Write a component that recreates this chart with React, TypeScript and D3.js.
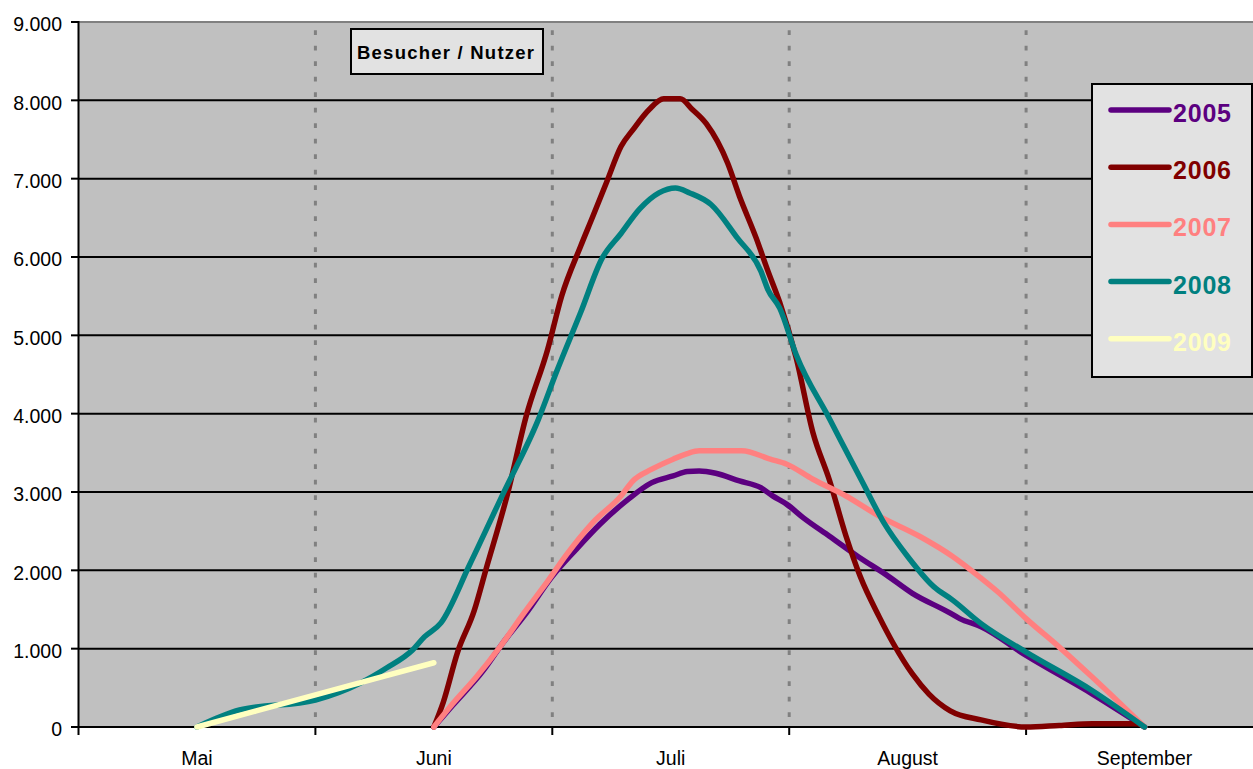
import React from "react";
import * as d3 from "d3";

const categories = ["Mai", "Juni", "Juli", "August", "September"];
const yTicks = [0, 1000, 2000, 3000, 4000, 5000, 6000, 7000, 8000, 9000];
const chartTitle = "Besucher / Nutzer";

// [position in months (0 = Mai, 1 = Juni, ...), visitors]
const s2005: [number, number][] = [
  [1.0, 0], [1.08, 278], [1.21, 726], [1.29, 1068], [1.39, 1453], [1.5, 1923], [1.6, 2265],
  [1.7, 2585], [1.82, 2906], [1.92, 3120], [2.01, 3205], [2.07, 3261], [2.12, 3269],
  [2.19, 3239], [2.29, 3141], [2.38, 3056], [2.43, 2950], [2.49, 2842], [2.56, 2670],
  [2.67, 2435], [2.79, 2177], [2.91, 1942], [3.02, 1706], [3.17, 1470], [3.22, 1384],
  [3.31, 1280], [3.5, 913], [3.78, 420], [4.0, 0],
];
const s2006: [number, number][] = [
  [1.0, 0], [1.04, 318], [1.1, 953], [1.17, 1482], [1.22, 2012], [1.31, 2964], [1.39, 3970],
  [1.48, 4817], [1.54, 5506], [1.62, 6141], [1.67, 6511], [1.73, 6961], [1.79, 7411],
  [1.84, 7623], [1.91, 7887], [1.97, 8020], [2.04, 8020], [2.09, 7887], [2.15, 7702],
  [2.24, 7200], [2.29, 6776], [2.36, 6247], [2.41, 5823], [2.46, 5420], [2.53, 4706],
  [2.6, 3760], [2.67, 3150], [2.74, 2435], [2.8, 1920], [2.88, 1406], [2.94, 1063],
  [3.02, 677], [3.09, 420], [3.18, 206], [3.31, 90], [3.5, 0], [3.64, 20], [3.78, 43],
  [3.97, 43], [4.0, 0],
];
const s2007: [number, number][] = [
  [1.0, 0], [1.08, 299], [1.18, 641], [1.28, 1026], [1.38, 1453], [1.48, 1859], [1.56, 2201],
  [1.67, 2607], [1.79, 2949], [1.84, 3141], [1.92, 3291], [2.01, 3419], [2.07, 3491],
  [2.12, 3526], [2.3, 3526], [2.42, 3419], [2.49, 3355], [2.6, 3163], [2.74, 2949],
  [2.88, 2692], [3.05, 2435], [3.19, 2177], [3.31, 1900], [3.38, 1727], [3.5, 1384],
  [3.64, 1020], [3.78, 634], [4.0, 0],
];
const s2008: [number, number][] = [
  [0.0, 0], [0.18, 217], [0.5, 345], [0.69, 562], [0.8, 753], [0.91, 983], [0.96, 1150],
  [1.03, 1330], [1.15, 2065], [1.29, 2964], [1.44, 3917], [1.52, 4550], [1.62, 5294],
  [1.71, 5982], [1.79, 6300], [1.87, 6617], [1.95, 6818], [2.02, 6880], [2.08, 6818],
  [2.17, 6670], [2.28, 6247], [2.38, 5823], [2.41, 5585], [2.46, 5347], [2.53, 4749],
  [2.67, 3935], [2.81, 3120], [2.9, 2606], [3.0, 2177], [3.11, 1792], [3.19, 1620],
  [3.31, 1320], [3.5, 956], [3.78, 463], [4.0, 0],
];
const s2009: [number, number][] = [
  [0.0, 0], [0.5, 410], [1.0, 820],
];

const seriesNames = ["2005", "2006", "2007", "2008", "2009"];
const seriesData = [s2005, s2006, s2007, s2008, s2009];
const seriesColors = ["#5C0080", "#800000", "#FF8080", "#008080", "#FFFFC0"];

const W = 1253;
const H = 769;
const left = 78.5;
const catW = 236.9;
const top = 22;
const bottom = 727;

export default function App() {
  const x = d3.scaleLinear().domain([-0.5, categories.length - 0.5]).range([left, left + catW * categories.length]);
  const y = d3.scaleLinear().domain([0, 9000]).range([bottom, top]);
  const line = d3
    .line<[number, number]>()
    .x((d) => x(d[0]))
    .y((d) => y(d[1]))
    .curve(d3.curveMonotoneX);
  const fmt = (v: number) => (v === 0 ? "0" : `${v / 1000}.000`);
  const boundaries = d3.range(1, categories.length).map((i) => i - 0.5);
  const font = "'Liberation Sans', Arial, sans-serif";

  return (
    <div style={{ position: "absolute", left: 0, top: 0 }}>
      <svg width={W} height={H} style={{ display: "block" }}>
        <rect x={0} y={0} width={W} height={H} fill="#ffffff" />
        <rect x={left} y={top} width={catW * categories.length} height={bottom - top} fill="#C0C0C0" />
        <line x1={left} x2={W + 20} y1={top} y2={top} stroke="#808080" strokeWidth={2} />
        {yTicks.slice(1, -1).map((t) => (
          <line key={t} x1={left} x2={W + 20} y1={y(t)} y2={y(t)} stroke="#000" strokeWidth={2} />
        ))}
        {boundaries.map((b) => (
          <line
            key={b}
            x1={x(b)}
            x2={x(b)}
            y1={717}
            y2={top + 1}
            stroke="#808080"
            strokeWidth={3}
            strokeDasharray="4.7 10.8"
          />
        ))}
        {/* axes */}
        <line x1={left} x2={left} y1={top - 1} y2={bottom + 8} stroke="#000" strokeWidth={2} />
        <line x1={left} x2={W + 20} y1={bottom} y2={bottom} stroke="#000" strokeWidth={2} />
        {boundaries.map((b) => (
          <line key={"t" + b} x1={x(b)} x2={x(b)} y1={bottom} y2={bottom + 8} stroke="#000" strokeWidth={2} />
        ))}
        {yTicks.map((t) => (
          <g key={"y" + t}>
            <line x1={71} x2={left} y1={y(t)} y2={y(t)} stroke="#000" strokeWidth={2} />
            <text x={62} y={y(t) + 9.3} textAnchor="end" fontFamily={font} fontSize={19.5} fill="#000">
              {fmt(t)}
            </text>
          </g>
        ))}
        {categories.map((c, i) => (
          <text key={c} x={x(i)} y={765} textAnchor="middle" fontFamily={font} fontSize={19.5} fill="#000">
            {c}
          </text>
        ))}
        {/* series */}
        {seriesData.map((d, i) => (
          <path
            key={seriesNames[i]}
            d={line(d) || ""}
            fill="none"
            stroke={seriesColors[i]}
            strokeWidth={5.5}
            strokeLinejoin="round"
            strokeLinecap="round"
          />
        ))}
        {/* title box */}
        <rect x={351} y={29} width={192} height={45} fill="#E2E2E2" stroke="#000" strokeWidth={2} />
        <text x={357} y={58.5} fontFamily={font} fontSize={18.5} fontWeight="bold" fill="#000" textLength={177} lengthAdjust="spacing">
          {chartTitle}
        </text>
        {/* legend */}
        <rect x={1092} y={84} width={160} height={293} fill="#E2E2E2" stroke="#000" strokeWidth={2} />
        {seriesNames.map((n, i) => {
          const ly = 110 + i * 57.2;
          return (
            <g key={"l" + n}>
              <line x1={1111} x2={1169} y1={ly} y2={ly} stroke={seriesColors[i]} strokeWidth={5.5} strokeLinecap="round" />
              <text x={1173} y={ly + 12} fontFamily={font} fontSize={25} fontWeight="bold" fill={seriesColors[i]} textLength={58} lengthAdjust="spacing">
                {n}
              </text>
            </g>
          );
        })}
      </svg>
    </div>
  );
}
